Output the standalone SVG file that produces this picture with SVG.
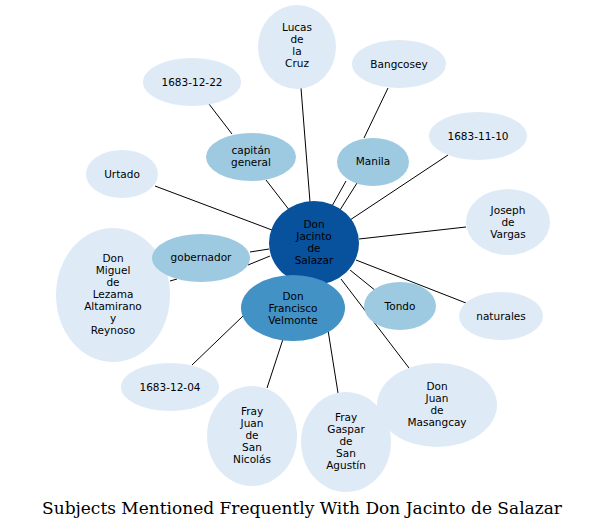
<svg xmlns="http://www.w3.org/2000/svg" width="605" height="529" viewBox="0 0 605 529">
<style>
.e{stroke:none}
.l{fill:#deebf7}.m{fill:#9ecae1}
text{font-family:"DejaVu Sans",sans-serif;font-size:10.5px;text-anchor:middle;fill:#000}
#edges line{stroke:#000;stroke-width:1}
</style>
<rect width="605" height="529" fill="#fff"/>
<g id="edges">
<line x1="209" y1="104" x2="232" y2="134"/>
<line x1="266" y1="180" x2="290" y2="211"/>
<line x1="301" y1="88" x2="310" y2="202"/>
<line x1="388" y1="88" x2="364" y2="138"/>
<line x1="357" y1="183" x2="340" y2="210"/>
<line x1="346" y1="181" x2="332" y2="206"/>
<line x1="448" y1="155" x2="350" y2="220"/>
<line x1="155" y1="186" x2="272" y2="230"/>
<line x1="466" y1="227" x2="359" y2="239"/>
<line x1="466" y1="303" x2="356" y2="260"/>
<line x1="376" y1="291" x2="350" y2="270"/>
<line x1="409" y1="368" x2="341" y2="279"/>
<line x1="338" y1="393" x2="321" y2="286"/>
<line x1="267" y1="388" x2="301" y2="284"/>
<line x1="192" y1="365" x2="243" y2="316"/>
<line x1="170" y1="281" x2="177" y2="279"/>
<line x1="250" y1="252" x2="269" y2="249"/>
<line x1="248" y1="265" x2="270" y2="256"/>
</g>
<g id="n_lucas"><ellipse class="l" cx="297" cy="47" rx="39" ry="42"/><text x="297" y="31">Lucas</text><text x="297" y="43">de</text><text x="297" y="55">la</text><text x="297" y="67">Cruz</text></g>
<g id="n_bang"><ellipse class="l" cx="399" cy="64" rx="47" ry="24"/><text x="399" y="68">Bangcosey</text></g>
<g id="n_d1"><ellipse class="l" cx="192" cy="82" rx="49" ry="24"/><text x="192" y="86">1683-12-22</text></g>
<g id="n_d2"><ellipse class="l" cx="478" cy="136" rx="49" ry="24"/><text x="478" y="140">1683-11-10</text></g>
<g id="n_urtado"><ellipse class="l" cx="122" cy="174" rx="36" ry="24"/><text x="122" y="178">Urtado</text></g>
<g id="n_joseph"><ellipse class="l" cx="508" cy="222" rx="42" ry="33"/><text x="508" y="214">Joseph</text><text x="508" y="226">de</text><text x="508" y="238">Vargas</text></g>
<g id="n_miguel"><ellipse class="l" cx="113" cy="295" rx="57" ry="67"/><text x="113" y="262">Don</text><text x="113" y="274">Miguel</text><text x="113" y="286">de</text><text x="113" y="298">Lezama</text><text x="113" y="310">Altamirano</text><text x="113" y="322">y</text><text x="113" y="334">Reynoso</text></g>
<g id="n_nat"><ellipse class="l" cx="501" cy="316" rx="42" ry="24"/><text x="501" y="320">naturales</text></g>
<g id="n_d3"><ellipse class="l" cx="170" cy="387" rx="49" ry="24"/><text x="170" y="391">1683-12-04</text></g>
<g id="n_masang"><ellipse class="l" cx="437" cy="405" rx="60" ry="42"/><text x="437" y="390">Don</text><text x="437" y="402">Juan</text><text x="437" y="414">de</text><text x="437" y="426">Masangcay</text></g>
<g id="n_fjuan"><ellipse class="l" cx="252" cy="436" rx="45" ry="50"/><text x="252" y="415">Fray</text><text x="252" y="427">Juan</text><text x="252" y="439">de</text><text x="252" y="451">San</text><text x="252" y="463">Nicolás</text></g>
<g id="n_fgaspar"><ellipse class="l" cx="346" cy="442" rx="45" ry="50"/><text x="346" y="421">Fray</text><text x="346" y="433">Gaspar</text><text x="346" y="445">de</text><text x="346" y="457">San</text><text x="346" y="469">Agustín</text></g>
<g id="n_cap"><ellipse class="m" cx="251" cy="157" rx="45" ry="24"/><text x="251" y="154">capitán</text><text x="251" y="166">general</text></g>
<g id="n_manila"><ellipse class="m" cx="373" cy="162" rx="36" ry="24"/><text x="373" y="165">Manila</text></g>
<g id="n_gob"><ellipse class="m" cx="201" cy="258" rx="49" ry="24"/><text x="201" y="261">gobernador</text></g>
<g id="n_tondo"><ellipse class="m" cx="400" cy="306" rx="36" ry="24"/><text x="400" y="310">Tondo</text></g>
<g id="n_center"><ellipse fill="#08519c" cx="314" cy="243" rx="45" ry="42"/><text x="314" y="228">Don</text><text x="314" y="240">Jacinto</text><text x="314" y="252">de</text><text x="314" y="264">Salazar</text></g>
<g id="n_franc"><ellipse fill="#4292c6" cx="293" cy="308" rx="52" ry="33"/><text x="293" y="300">Don</text><text x="293" y="312">Francisco</text><text x="293" y="324">Velmonte</text></g>
<text x="302" y="514" style="font-family:'DejaVu Serif',serif;font-size:17px">Subjects Mentioned Frequently With Don Jacinto de Salazar</text>
</svg>
